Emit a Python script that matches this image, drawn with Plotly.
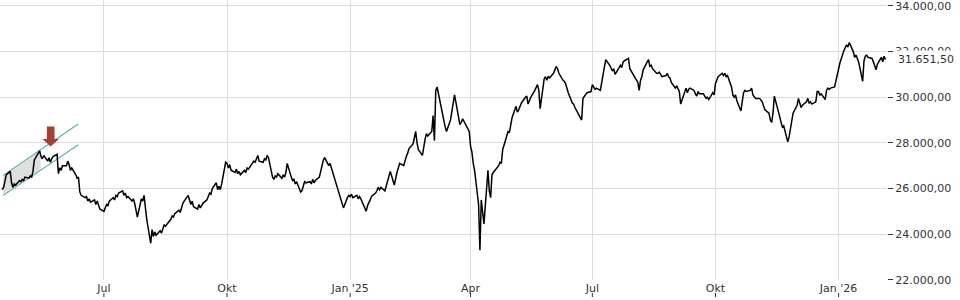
import pandas as pd
import plotly.graph_objects as go

# ---------------- data (daily closes) ----------------
months = ["2024-04-16", "2024-05-01", "2024-06-03", "2024-07-01", "2024-08-01", "2024-09-02",
          "2024-10-01", "2024-11-01", "2024-12-02", "2025-01-01", "2025-02-03", "2025-03-03",
          "2025-04-01", "2025-05-01", "2025-06-02", "2025-07-01", "2025-08-01", "2025-09-01",
          "2025-10-01", "2025-11-03", "2025-12-01", "2026-01-01", "2026-02-02"]

close_2024_04 = [25950, 26050, 26300, 26600, 26750, 26250, 26050, 26200, 26150, 26350, 26300]
close_2024_05 = [26400, 26350, 26500, 26450, 26550, 26500, 26750, 27250, 27550, 27650, 27400, 27300,
                 27450, 27200, 27350, 27150, 27300, 27400, 27500, 26650, 26900, 26800, 27000]
close_2024_06 = [27000, 27200, 27050, 26800, 26900, 26600, 26450, 26500, 25850, 25700, 25600, 25650,
                 25450, 25550, 25400, 25500, 25300, 25450, 25250, 25100]
close_2024_07 = [25000, 25150, 25300, 25250, 25450, 25600, 25500, 25700, 25650, 25800, 25900, 25700,
                 25800, 25600, 25650, 25450, 25550, 25350, 25100, 24750, 25550, 25450, 25700]
close_2024_08 = [25250, 24650, 23600, 24200, 23900, 24100, 23950, 24150, 24050, 24250, 24400, 24350,
                 24550, 24650, 24800, 24750, 24900, 25050, 24950, 25200, 25350, 25450]
close_2024_09 = [25700, 25500, 25300, 25450, 25200, 25100, 25300, 25150, 25250, 25350, 25500, 25700,
                 25800, 25750, 26000, 26250, 25950, 26100, 25950, 26200, 27150]
close_2024_10 = [27100, 26900, 27050, 26800, 26700, 26850, 26650, 26750, 26600, 26800, 26700, 26900,
                 26850, 26950, 27200, 27150, 27300, 27450, 27200, 27150, 27300, 27250, 27450]
close_2024_11 = [27350, 26500, 26400, 26550, 26500, 26650, 26450, 26600, 26500, 26700, 27100, 26500,
                 26350, 26400, 26200, 26300, 25850, 25900, 26150, 26300, 26250]
close_2024_12 = [26300, 26200, 26400, 26250, 26350, 26500, 26800, 27050, 27250, 27350, 27000, 27100,
                 26900, 26700, 26500, 25900, 25700, 25500, 25400, 25150, 25600, 25700]
close_2025_01 = [25650, 25750, 25600, 25700, 25550, 25650, 25550, 25400, 25000, 25250, 25350, 25500,
                 25650, 25800, 25900, 26050, 25950, 26050, 25900, 26100, 26300, 26500, 26750]
close_2025_02 = [26150, 26500, 26700, 26900, 27100, 27000, 27250, 27400, 27550, 27750, 27950, 28300,
                 28500, 28000, 27700, 27450, 27900, 28150, 28400, 28300]
close_2025_03 = [28500, 29200, 28100, 30300, 30450, 29500, 29150, 29000, 28700, 28500, 29000, 29450,
                 29800, 30100, 29800, 28800, 28900, 29050, 28950, 28850, 28500]
close_2025_04 = [27850, 27600, 27100, 26800, 25300, 23300, 25500, 24900, 24450, 26800, 25900, 25600,
                 26600, 26700, 26950, 27000, 27150, 27100, 27700, 28300, 28500, 28450]
close_2025_05 = [28900, 29100, 29600, 29350, 29450, 29650, 29750, 30000, 30050, 29700, 29900, 30000,
                 30300, 30450, 30550, 30300, 29500, 30800, 30900, 30750, 30900, 30850]
close_2025_06 = [31050, 31200, 31350, 31250, 31050, 30750, 30700, 30600, 30400, 30200, 29750, 29700,
                 29550, 29450, 29300, 29000, 29950, 30050, 30100, 30200, 30250]
close_2025_07 = [30550, 30450, 30350, 30400, 30300, 30650, 31050, 31400, 31650, 31400, 31250, 31150,
                 31250, 31000, 31300, 31400, 31300, 31550, 31600, 31700, 31250, 31150, 31050]
close_2025_08 = [31000, 30650, 30300, 30750, 30900, 31200, 31550, 31650, 31350, 31400, 31250, 31050,
                 31050, 31100, 31000, 30900, 30950, 31050, 30900, 30850, 30650]
close_2025_09 = [30400, 30500, 30350, 30250, 29700, 30300, 30400, 30200, 30350, 30400, 30300, 30150,
                 30050, 30250, 30150, 30150, 30050, 29950, 30000, 29900, 30200, 30100]
close_2025_10 = [30600, 30750, 30900, 31050, 30950, 31050, 30900, 30950, 30450, 30100, 30000, 30100,
                 29850, 29400, 29900, 30200, 30300, 30250, 30300, 30400, 30100, 30000, 29950]
close_2025_11 = [29950, 29850, 29800, 29600, 29450, 29300, 29000, 28900, 29300, 30050, 29450, 29150,
                 28900, 28700, 28750, 28050, 28250, 28550, 29000, 29300]
close_2025_12 = [29650, 29950, 29750, 29550, 29650, 29800, 29950, 29750, 29800, 29700, 29800, 30250,
                 30250, 30100, 30150, 29900, 30300, 30400, 30350, 30400, 30450, 30750, 31050]
close_2026_01 = [31200, 31500, 32050, 32200, 32300, 32200, 32400, 32000, 31750, 31850, 31700, 31550,
                 30700, 31600, 31800, 31850, 31750, 31700, 31550, 31400, 31200, 31450]
close_2026_02 = [31750, 31550, 31800, 31651.5]

monthly_closes = [close_2024_04, close_2024_05, close_2024_06, close_2024_07, close_2024_08,
                  close_2024_09, close_2024_10, close_2024_11, close_2024_12, close_2025_01,
                  close_2025_02, close_2025_03, close_2025_04, close_2025_05, close_2025_06,
                  close_2025_07, close_2025_08, close_2025_09, close_2025_10, close_2025_11,
                  close_2025_12, close_2026_01, close_2026_02]

tick_dates = ["2024-07-01", "2024-10-01", "2025-01-01", "2025-04-01",
              "2025-07-01", "2025-10-01", "2026-01-01"]
tick_labels = ["Jul", "Okt", "Jan '25", "Apr", "Jul", "Okt", "Jan '26"]
y_ticks = [22000, 24000, 26000, 28000, 30000, 32000, 34000]

# trend channel drawing (dates / price levels)
channel_dates = ["2024-04-16 14:00", "2024-06-11 21:00"]
channel_upper = [26576, 28830]
channel_lower = [25687, 27919]
channel_fill_end = "2024-05-14 19:00"
arrow_date = "2024-05-22 06:00"
arrow_value = 27844

# ---------------- build series ----------------
dates, closes = [], []
for start, vals in zip(months, monthly_closes):
    d = pd.bdate_range(start, periods=len(vals))
    dates.extend(d)
    closes.extend(vals)

def de_fmt(v):
    s = f"{v:,.2f}"
    return s.replace(",", "X").replace(".", ",").replace("X", ".")

fig = go.Figure()

# channel fill
t0 = pd.Timestamp(channel_dates[0]); t1 = pd.Timestamp(channel_dates[1]); tf = pd.Timestamp(channel_fill_end)
frac = (tf - t0) / (t1 - t0)
u_f = channel_upper[0] + frac * (channel_upper[1] - channel_upper[0])
l_f = channel_lower[0] + frac * (channel_lower[1] - channel_lower[0])
fig.add_trace(go.Scatter(x=[t0, tf, tf, t0, t0],
                         y=[channel_upper[0], u_f, l_f, channel_lower[0], channel_upper[0]],
                         fill="toself", fillcolor="rgba(210,210,210,0.7)",
                         mode="lines", line=dict(width=0), hoverinfo="skip"))
for ys in (channel_upper, channel_lower):
    fig.add_trace(go.Scatter(x=[t0, t1], y=ys, mode="lines",
                             line=dict(color="#5eaab2", width=1.1), hoverinfo="skip"))

fig.add_trace(go.Scatter(x=dates, y=closes, mode="lines",
                         line=dict(color="#000000", width=1.5)))

shapes = []
# x tick marks placed below the tick labels
for td in tick_dates:
    shapes.append(dict(type="line", xref="x", yref="paper", x0=td, x1=td,
                       y0=-13 / 280, y1=-17 / 280, line=dict(color="#333333", width=1)))
# red arrow pointing down
shapes.append(dict(type="path", xref="x", yref="y", xsizemode="pixel", ysizemode="pixel",
                   xanchor=arrow_date, yanchor=arrow_value,
                   path="M -3.8,20 L 3.8,20 L 3.8,7.5 L 8.2,7.5 L 0,0 L -8.2,7.5 L -3.8,7.5 Z",
                   fillcolor="#a23f37", line=dict(width=0)))

fig.update_layout(
    width=960, height=300,
    margin=dict(l=0, r=73, t=0, b=20),
    paper_bgcolor="white", plot_bgcolor="white",
    showlegend=False,
    separators=",.",
    font=dict(family="DejaVu Sans", size=11, color="#333333"),
    shapes=shapes,
    xaxis=dict(type="date", range=["2024-04-14 08:38", "2026-02-06 04:34"],
               tickvals=tick_dates, ticktext=tick_labels, showgrid=True,
               gridcolor="#dcdcdc", gridwidth=1, ticks="", showline=False, zeroline=False,
               tickfont=dict(size=11, color="#333333")),
    yaxis=dict(side="right", range=[21990, 34262], tickvals=y_ticks, tickformat=",.2f",
               showgrid=True, gridcolor="#dcdcdc", gridwidth=1, ticks="outside", ticklen=5,
               tickcolor="#333333", showline=False, zeroline=False,
               ticklabeloverflow="allow",
               tickfont=dict(size=11, color="#333333")),
    annotations=[dict(xref="paper", yref="y", x=1, y=closes[-1], xanchor="left", yanchor="middle",
                      xshift=8, text=de_fmt(closes[-1]), showarrow=False, bgcolor="white",
                      borderpad=2, font=dict(size=11, color="#333333"))],
)

fig.write_html("out.html")
